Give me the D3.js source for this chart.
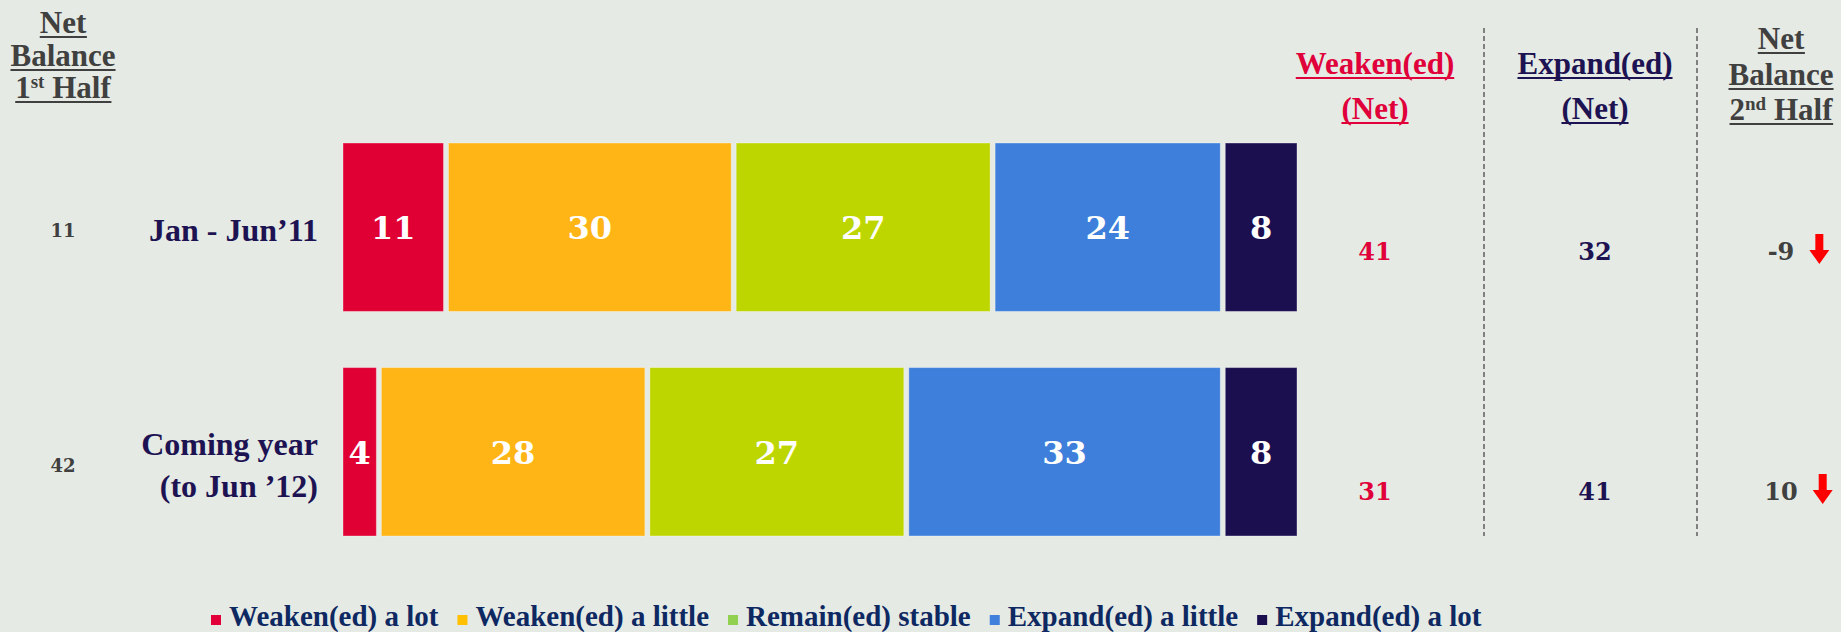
<!DOCTYPE html>
<html>
<head>
<meta charset="utf-8">
<script src="https://cdn.jsdelivr.net/npm/d3@7"></script>
<style>
  body { margin: 0; background: #e5eae4; }
  svg { display: block; }
</style>
</head>
<body>
<svg id="chart" width="1841" height="632"></svg>
<script>
// data
const rows = ["Jan - Jun’11", "Coming year (to Jun ’12)"];
const rowLines = [["Jan - Jun’11"], ["Coming year", "(to Jun ’12)"]];
const seriesNames = ["Weaken(ed) a lot", "Weaken(ed) a little", "Remain(ed) stable", "Expand(ed) a little", "Expand(ed) a lot"];
const weakenLot = [11, 4];
const weakenLittle = [30, 28];
const remainStable = [27, 27];
const expandLittle = [24, 33];
const expandLot = [8, 8];
const weakenNet = [41, 31];
const expandNet = [32, 41];
const netFirstHalf = [11, 42];
const netSecondHalf = [-9, 10];

const barColors = ["#e00034", "#ffb515", "#bed600", "#3d7fda", "#1c0f50"];
const legendColors = ["#e2003a", "#ffc000", "#92d050", "#3f80dc", "#1c0f50"];

const serif = "'Liberation Serif', 'Times New Roman', serif";
const numFont = "'DejaVu Serif', serif";
const navy = "#1e1352";
const red = "#e0003a";
const grey = "#404040";

const svg = d3.select("#chart");

const table = rows.map((row, i) => ({
  row,
  [seriesNames[0]]: weakenLot[i],
  [seriesNames[1]]: weakenLittle[i],
  [seriesNames[2]]: remainStable[i],
  [seriesNames[3]]: expandLittle[i],
  [seriesNames[4]]: expandLot[i]
}));
const stacked = d3.stack().keys(seriesNames)(table);

const x = d3.scaleLinear().domain([0, 100]).range([343, 1302]);
const y = d3.scaleBand().domain(rows).range([143, 536]).paddingInner(0.25);
const yLeft = d3.scalePoint().domain(rows).range([231, 466]);
const yRight = d3.scalePoint().domain(rows).range([251, 491]);
const color = d3.scaleOrdinal().domain(seriesNames).range(barColors);
const gap = 5;

// bars
const layers = svg.append("g").selectAll("g")
  .data(stacked)
  .join("g")
  .attr("fill", (d) => color(d.key));

layers.selectAll("rect")
  .data((d) => d)
  .join("rect")
  .attr("x", (d) => x(d[0]))
  .attr("y", (d) => y(d.data.row))
  .attr("width", (d) => x(d[1]) - x(d[0]) - gap)
  .attr("height", y.bandwidth())
  .attr("stroke", "rgba(255,255,255,0.35)")
  .attr("stroke-width", 1);

layers.selectAll("text")
  .data((d) => d)
  .join("text")
  .attr("x", (d) => (x(d[0]) + x(d[1]) - gap) / 2)
  .attr("y", (d) => y(d.data.row) + y.bandwidth() / 2 + 12)
  .attr("text-anchor", "middle")
  .attr("fill", "#fff")
  .attr("font-family", numFont)
  .attr("font-weight", "bold")
  .attr("font-size", 32)
  .text((d) => d[1] - d[0]);

// row labels
rows.forEach((row, i) => {
  const lines = rowLines[i];
  const lh = 42;
  const top = yLeft(row) + 10 - (lines.length - 1) * lh / 2;
  lines.forEach((line, j) => {
    svg.append("text")
      .attr("x", 318)
      .attr("y", top + j * lh)
      .attr("text-anchor", "end")
      .attr("fill", navy)
      .attr("font-family", serif)
      .attr("font-weight", "bold")
      .attr("font-size", 32)
      .text(line);
  });
});

// helper for underlined header lines
const underline = (textSel, fill) => {
  const b = textSel.node().getBBox();
  const base = +textSel.attr("y");
  svg.append("line")
    .attr("x1", b.x).attr("x2", b.x + b.width)
    .attr("y1", base + 4).attr("y2", base + 4)
    .attr("stroke", fill).attr("stroke-width", 2.2);
};

const header = (cx, baselines, lines, fill) => {
  lines.forEach((line, j) => {
    const t = svg.append("text")
      .attr("x", cx)
      .attr("y", baselines[j])
      .attr("text-anchor", "middle")
      .attr("fill", fill)
      .attr("font-family", serif)
      .attr("font-weight", "bold")
      .attr("font-size", 31);
    if (Array.isArray(line)) {
      t.append("tspan").text(line[0]);
      t.append("tspan").attr("font-size", 19).attr("dy", -10).text(line[1]);
      t.append("tspan").attr("dy", 10).text(line[2]);
    } else {
      t.text(line);
    }
    underline(t, fill);
  });
};

header(63, [33, 66, 98], ["Net", "Balance", ["1", "st", " Half"]], grey);
header(1375, [74, 119], ["Weaken(ed)", "(Net)"], red);
header(1595, [74, 119], ["Expand(ed)", "(Net)"], navy);
header(1781, [49, 85, 120], ["Net", "Balance", ["2", "nd", " Half"]], grey);

// dashed separators
[1484, 1697].forEach((sx) => {
  svg.append("line")
    .attr("x1", sx).attr("x2", sx)
    .attr("y1", 28).attr("y2", 536)
    .attr("stroke", "#808080")
    .attr("stroke-width", 2)
    .attr("stroke-dasharray", "5,3");
});

// net columns
const valueCol = (values, cx, yScale, fill, size) => svg.append("g")
  .selectAll("text")
  .data(values)
  .join("text")
  .attr("x", cx)
  .attr("y", (d, i) => yScale(rows[i]) + size * 0.36)
  .attr("text-anchor", "middle")
  .attr("fill", fill)
  .attr("font-family", numFont)
  .attr("font-weight", "bold")
  .attr("font-size", size)
  .text((d) => d);

valueCol(netFirstHalf, 63, yLeft, grey, 18);
valueCol(weakenNet, 1375, yRight, red, 24);
valueCol(expandNet, 1595, yRight, navy, 24);
const net2 = valueCol(netSecondHalf, 1781, yRight, grey, 24);

// down arrows next to 2nd half balance
net2.each(function (d, i) {
  const b = this.getBBox();
  const cx = b.x + b.width + 25;
  const cy = yRight(rows[i]) - 2;
  svg.append("path")
    .attr("d", `M${cx - 4},${cy - 15}H${cx + 4}V${cy + 1}H${cx + 10}L${cx},${cy + 15}L${cx - 10},${cy + 1}H${cx - 4}Z`)
    .attr("fill", "#ff0000");
});

// legend
const legend = svg.append("g");
let lx = 211;
seriesNames.forEach((name, i) => {
  legend.append("rect")
    .attr("x", lx).attr("y", 615)
    .attr("width", 10).attr("height", 10)
    .attr("fill", legendColors[i]);
  const t = legend.append("text")
    .attr("x", lx + 18)
    .attr("y", 625.5)
    .attr("fill", "#0e2862")
    .attr("font-family", serif)
    .attr("font-weight", "bold")
    .attr("font-size", 29)
    .text(name);
  lx += 18 + t.node().getComputedTextLength() + 19;
});
</script>
</body>
</html>
